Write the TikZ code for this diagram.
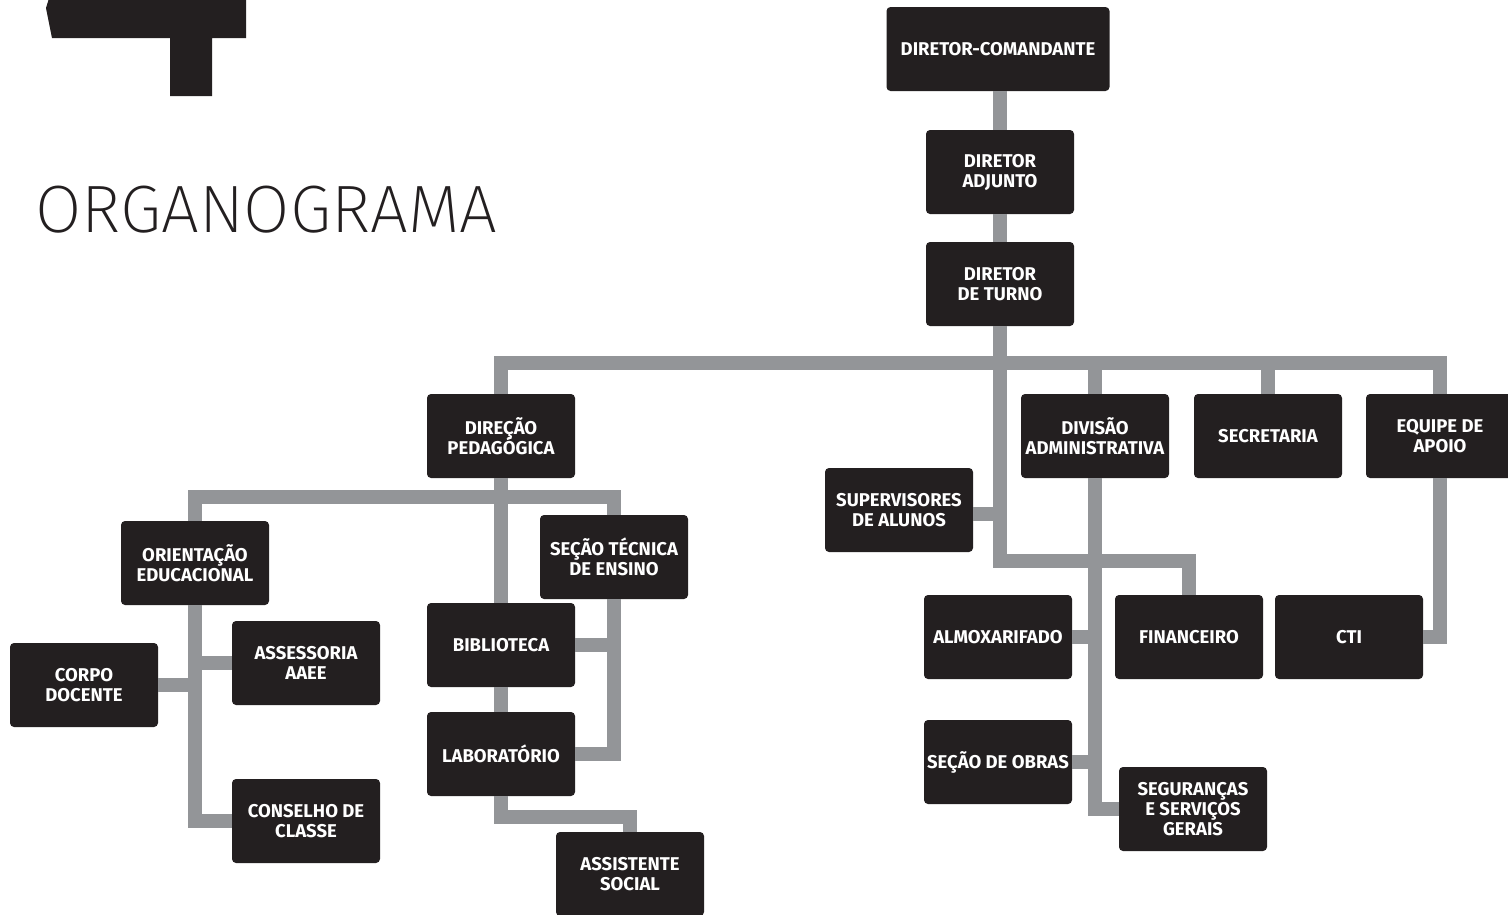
\documentclass[tikz,border=0pt]{standalone}
\usepackage{fontspec}
\usepackage{tikz}
\usetikzlibrary{calc}
\newfontfamily\boxfont{Fira Sans}
\newfontfamily\titlefont{Fira Sans ExtraLight}
\definecolor{boxblack}{HTML}{231F20}
\definecolor{linkgray}{HTML}{939598}

\begin{document}
\begin{tikzpicture}[x=1pt, y=-1pt,
    box/.style={fill=boxblack, rounded corners=4pt, text=white, align=center, inner sep=2pt,
        minimum width=148pt, minimum height=84pt,
        font=\boxfont\bfseries\fontsize{18.5}{20}\selectfont,
        execute at begin node={\lineskiplimit=-100pt\relax}},
    link/.style={draw=linkgray, line width=14pt}]
        \useasboundingbox (0,0) rectangle (1508,914);
        \clip (0,0) rectangle (1508,914);
        % logo and title
        \fill[boxblack] (50,-5) -- (246,-5) -- (246,38) -- (212,38) -- (212,96) -- (170,96) -- (170,38) -- (52,38) -- (46,8) -- cycle;
        \node[anchor=base west, inner sep=0pt, text=boxblack, font=\titlefont\fontsize{67}{67}\selectfont] (title) at (35,232) {ORGANOGRAMA};
        % top of the chart
        \node[box, minimum width=223pt] (dc) at (998,49) {DIRETOR-COMANDANTE};
        \node[box] (da) at (1000,172) {DIRETOR\\ADJUNTO};
        \node[box] (dt) at (1000,284) {DIRETOR\\DE TURNO};
        % second level
        \node[box] (dp) at (501,436) {DIREÇÃO\\PEDAGÓGICA};
        \node[box] (dv) at (1095,436) {DIVISÃO\\ADMINISTRATIVA};
        \node[box] (sec) at (1268,436) {SECRETARIA};
        \node[box] (ea) at (1440,436) {EQUIPE DE\\APOIO};
        \node[box] (sup) at (899,510) {SUPERVISORES\\DE ALUNOS};
        % pedagogical side
        \node[box] (oe) at (195,563) {ORIENTAÇÃO\\EDUCACIONAL};
        \node[box] (ste) at (614,557) {SEÇÃO TÉCNICA\\DE ENSINO};
        \node[box] (cd) at (84,685) {CORPO\\DOCENTE};
        \node[box] (aa) at (306,663) {ASSESSORIA\\AAEE};
        \node[box] (cc) at (306,821) {CONSELHO DE\\CLASSE};
        \node[box] (bib) at (501,645) {BIBLIOTECA};
        \node[box] (lab) at (501,754) {LABORATÓRIO};
        \node[box] (as) at (630,874) {ASSISTENTE\\SOCIAL};
        % administrative side
        \node[box] (alm) at (998,637) {ALMOXARIFADO};
        \node[box] (fin) at (1189,637) {FINANCEIRO};
        \node[box] (cti) at (1349,637) {CTI};
        \node[box] (obr) at (998,762) {SEÇÃO DE OBRAS};
        \node[box] (seg) at (1193,809) {SEGURANÇAS\\E SERVIÇOS\\GERAIS};
        % links
        \draw[link] (dc.south -| da.north) -- (da.north);
        \draw[link] (da.south) -- (dt.north);
        \draw[link] (dp.north) -- ++(0,-31) -| (ea.north);
        \draw[link] (dv.north) -- ++(0,-31);
        \draw[link] (sec.north) -- ++(0,-31);
        \draw[link] (dt.south) -- ++(0,235) -| (fin.north);
        \draw[link] ([yshift=-4pt]sup.east) -- ([yshift=-4pt]sup.east -| dt.south);
        \draw[link] (dv.south) |- (seg.west);
        \draw[link] (alm.east) -- (alm.east -| dv.south);
        \draw[link] (obr.east) -- (obr.east -| dv.south);
        \draw[link] (ea.south) |- (cti.east);
        \draw[link] (dp.south) -- (bib.north);
        \draw[link] (oe.north) -- ++(0,-24) -| (ste.north);
        \draw[link] (bib.south) -- (lab.north);
        \draw[link] (ste.south) |- (lab.east);
        \draw[link] (bib.east) -- (bib.east -| ste.south);
        \draw[link] (lab.south) -- ++(0,21) -| (as.north);
        \draw[link] (oe.south) |- (cc.west);
        \draw[link] (aa.west) -- (aa.west -| oe.south);
        \draw[link] (cd.east) -- (cd.east -| oe.south);
\end{tikzpicture}
\end{document}
